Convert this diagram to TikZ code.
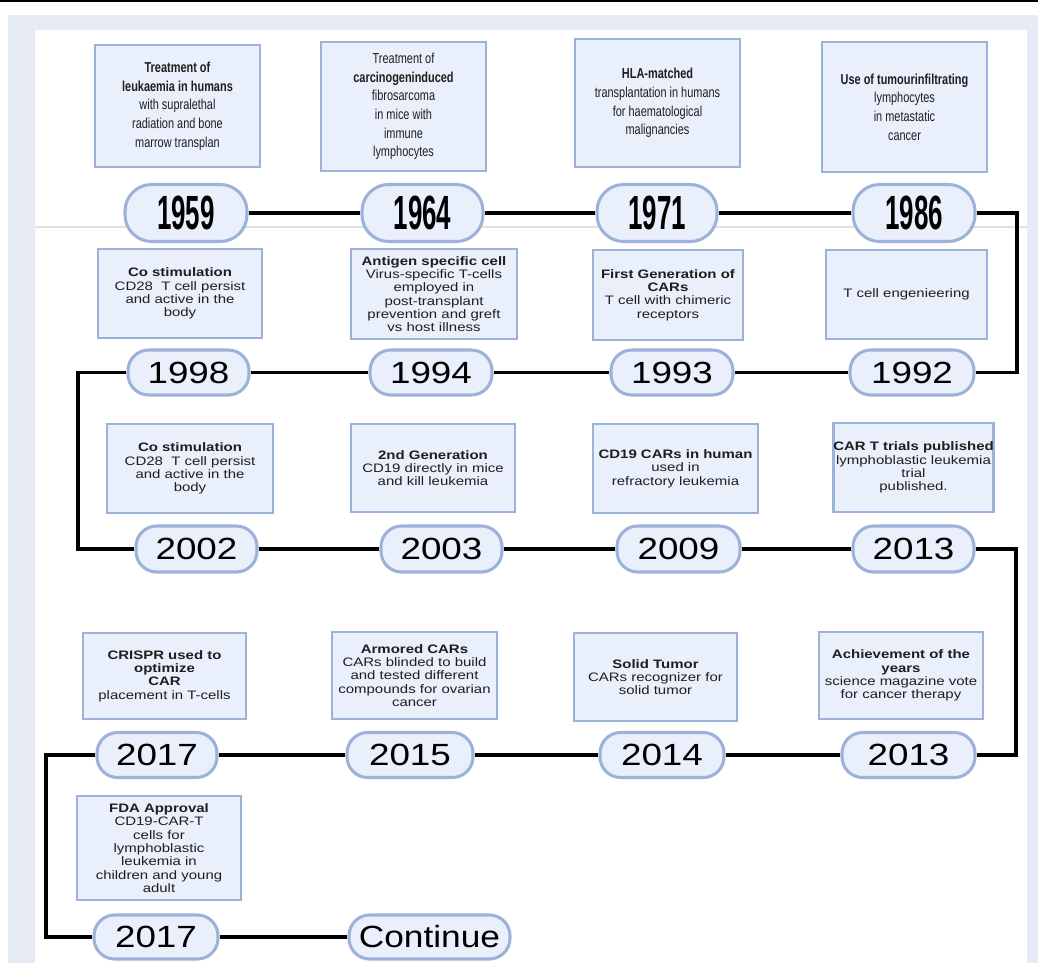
\documentclass[tikz,border=0pt]{standalone}
\usepackage{fontspec}
\setmainfont{Liberation Sans}
\newfontfamily\topfont[FakeStretch=0.76]{Liberation Sans}
\newfontfamily\topyear[FakeStretch=0.54]{Liberation Sans}
\newfontfamily\lowfont[FakeStretch=1.22]{Liberation Sans}
\newfontfamily\lowyear[FakeStretch=1.2]{Liberation Sans}
\newfontfamily\contfont[FakeStretch=1.15]{Liberation Sans}
\definecolor{bgl}{HTML}{E7EBF5}
\definecolor{boxfill}{HTML}{E9F0FB}
\definecolor{boxedge}{HTML}{9DB2D8}
\definecolor{txt}{HTML}{1E1E1E}
\begin{document}
\begin{tikzpicture}[x=0.75pt,y=-0.75pt,
 sz/.style 2 args={minimum width=#1*0.75pt, minimum height=#2*0.75pt},
 infobox/.style={draw=boxedge, fill=boxfill, line width=2pt, inner sep=0pt, align=center, text=txt},
 topbox/.style={infobox, font=\topfont\fontsize{10.8}{14}\selectfont},
 lowbox/.style={infobox, font=\lowfont\fontsize{9.2}{10}\selectfont},
 pill/.style={draw=boxedge, fill=boxfill, line width=2.3pt, inner sep=0pt, text=black},
 toppill/.style={pill, rounded corners=20pt, font=\topyear\bfseries\fontsize{36}{36}\selectfont},
 lowpill/.style={pill, rounded corners=15.5pt, font=\lowyear\fontsize{23}{23}\selectfont},
 link/.style={draw=black, line width=2.3pt},
]
\useasboundingbox (0,0) rectangle (1038,963);
% background
\fill[white] (0,0) rectangle (1038,963);
\fill[bgl] (8,15) rectangle (1038,963);
\fill[white] (35,30) rectangle (1027,963);
\fill[black] (0,0) rectangle (1038,2.5);
\draw[black!12, line width=0.8pt] (35,227) -- (1027,227);

% row 1
\node[topbox, sz={165}{122}] (b1959) at (177.5,106) {\textbf{Treatment of}\\\textbf{leukaemia in humans}\\with supralethal\\radiation and bone\\marrow transplan};
\node[topbox, sz={165}{129}] (b1964) at (403.5,106.5) {Treatment of\\\textbf{carcinogeninduced}\\fibrosarcoma\\in mice with\\immune\\lymphocytes};
\node[topbox, sz={165}{128}] (b1971) at (657.5,103) {\textbf{HLA-matched}\\transplantation in humans\\for haematological\\malignancies};
\node[topbox, sz={165}{130}] (b1986) at (904.5,107) {\textbf{Use of tumourinfiltrating}\\lymphocytes\\in metastatic\\cancer};

\node[toppill, sz={122}{57}] (p1959) at (186,213) {1959};
\node[toppill, sz={121}{57}] (p1964) at (422.5,213) {1964};
\node[toppill, sz={120}{57}] (p1971) at (657,213) {1971};
\node[toppill, sz={122}{57}] (p1986) at (914,213) {1986};

% row 2
\node[lowbox, sz={164}{89}] (b1998) at (180,293.5) {\textbf{Co stimulation}\\CD28\ \ T cell persist\\and active in the\\body};
\node[lowbox, sz={166}{90}] (b1994) at (434,294) {\textbf{Antigen specific cell}\\Virus-specific T-cells\\employed in\\post-transplant\\prevention and greft\\vs host illness};
\node[lowbox, sz={150}{90}] (b1993) at (668,295) {\textbf{First Generation of}\\\textbf{CARs}\\T cell with chimeric\\receptors};
\node[lowbox, sz={161}{89}] (b1992) at (906.5,294.5) {T cell engenieering};

\node[lowpill, sz={121}{45}] (p1998) at (188.5,372.5) {1998};
\node[lowpill, sz={122}{45}] (p1994) at (431,372.5) {1994};
\node[lowpill, sz={122}{45}] (p1993) at (672,372.5) {1993};
\node[lowpill, sz={124}{45}] (p1992) at (912,372.5) {1992};

% row 3
\node[lowbox, sz={166}{89}] (b2002) at (190,468.5) {\textbf{Co stimulation}\\CD28\ \ T cell persist\\and active in the\\body};
\node[lowbox, sz={164}{88}] (b2003) at (433,468) {\textbf{2nd Generation}\\CD19 directly in mice\\and kill leukemia};
\node[lowbox, sz={165}{89}] (b2009) at (675.5,468.5) {\textbf{CD19 CARs in human}\\used in\\refractory leukemia};
\node[lowbox, sz={155}{89}] (b2013a) at (913.5,467.5) {\textbf{CAR T trials published}\\lymphoblastic leukemia\\trial\\published.};

\node[lowpill, sz={121}{46}] (p2002) at (196.5,549) {2002};
\node[lowpill, sz={121}{46}] (p2003) at (441.5,549) {2003};
\node[lowpill, sz={123}{46}] (p2009) at (678.5,549) {2009};
\node[lowpill, sz={121}{46}] (p2013a) at (913.5,549) {2013};

% row 4
\node[lowbox, sz={163}{86}] (b2017a) at (164.5,676) {\textbf{CRISPR used to}\\\textbf{optimize}\\\textbf{CAR}\\placement in T-cells};
\node[lowbox, sz={165}{87}] (b2015) at (414.5,675.5) {\textbf{Armored CARs}\\CARs blinded to build\\and tested different\\compounds for ovarian\\cancer};
\node[lowbox, sz={163}{88}] (b2014) at (655.5,677) {\textbf{Solid Tumor}\\CARs recognizer for\\solid tumor};
\node[lowbox, sz={164}{87}] (b2013b) at (901,675.5) {\textbf{Achievement of the}\\\textbf{years}\\science magazine vote\\for cancer therapy};

\node[lowpill, sz={120}{45}] (p2017a) at (157,755) {2017};
\node[lowpill, sz={126}{45}] (p2015) at (410,755) {2015};
\node[lowpill, sz={124}{45}] (p2014) at (662,755) {2014};
\node[lowpill, sz={133}{45}] (p2013b) at (908.5,755) {2013};

% row 5
\node[lowbox, sz={164}{104}] (bFDA) at (159,848) {\textbf{FDA Approval}\\CD19-CAR-T\\cells for\\lymphoblastic\\leukemia in\\children and young\\adult};
\node[lowpill, sz={124}{44}] (p2017b) at (156,937) {2017};
\node[lowpill, sz={161}{44}, font=\contfont\fontsize{23}{23}\selectfont] (pCont) at (429.5,937) {Continue};

% connectors
\coordinate (r1) at (1017,213);
\coordinate (l1) at (78,372.5);
\coordinate (r2) at (1016,549);
\coordinate (l2) at (46,755);
\draw[link] (p1959.east) -- (p1964.west);
\draw[link] (p1964.east) -- (p1971.west);
\draw[link] (p1971.east) -- (p1986.west);
\draw[link] (p1986.east) -- (r1) |- (p1992.east);
\draw[link] (p1992.west) -- (p1993.east);
\draw[link] (p1993.west) -- (p1994.east);
\draw[link] (p1994.west) -- (p1998.east);
\draw[link] (p1998.west) -- (l1) |- (p2002.west);
\draw[link] (p2002.east) -- (p2003.west);
\draw[link] (p2003.east) -- (p2009.west);
\draw[link] (p2009.east) -- (p2013a.west);
\draw[link] (p2013a.east) -- (r2) |- (p2013b.east);
\draw[link] (p2013b.west) -- (p2014.east);
\draw[link] (p2014.west) -- (p2015.east);
\draw[link] (p2015.west) -- (p2017a.east);
\draw[link] (p2017a.west) -- (l2) |- (p2017b.west);
\draw[link] (p2017b.east) -- (pCont.west);
\end{tikzpicture}
\end{document}
